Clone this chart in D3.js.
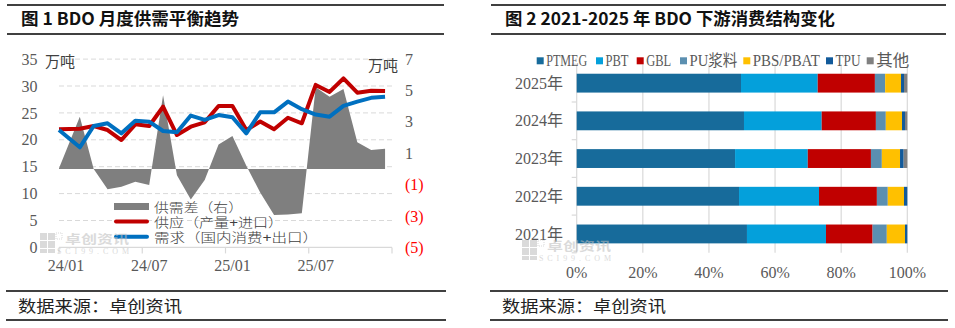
<!DOCTYPE html>
<html><head><meta charset="utf-8">
<script src="https://cdn.jsdelivr.net/npm/d3@7"></script>
<style>body{margin:0;background:#fff;}svg{display:block;}</style>
</head><body><svg id="c" width="955" height="328"></svg>
<script>
// ---------- data: chart 1 ----------
const months = ["24/01","24/02","24/03","24/04","24/05","24/06","24/07","24/08","24/09","24/10","24/11","24/12",
                "25/01","25/02","25/03","25/04","25/05","25/06","25/07","25/08","25/09","25/10","25/11","25/12"];
const supply = [21.95,22.07,22.57,21.82,19.96,22.88,22.57,26.15,20.89,22.44,23.25,26.28,
                26.3,21.8,23.4,21.95,24.1,23.07,30.2,28.9,31.4,28.75,29.1,29.07];
const demand = [21.82,18.6,22.57,23.07,21.2,23.55,23.37,21.64,21.4,24.5,23.7,24.6,
                24.2,21.2,25.1,25.1,27.1,25.7,24.7,24.3,26.3,27.1,27.8,28.0];
const gap = [0.05,3.33,0.0,-1.3,-1.13,-0.82,-1.03,4.7,-0.4,-1.95,-0.7,1.55,
             2.1,0.2,-1.5,-2.94,-2.9,-2.83,5.2,4.6,5.1,1.7,1.2,1.28];
const leftTicks = [0,5,10,15,20,25,30,35];
const rightTicks = [7,5,3,1,-1,-3,-5];
const xTickLabels = ["24/01","24/07","25/01","25/07"];
const legend1 = ["供需差（右）","供应（产量+进口）","需求（国内消费+出口）"];

// ---------- data: chart 2 ----------
const years = ["2025年","2024年","2023年","2022年","2021年"];
const segNames = ["PTMEG","PBT","GBL","PU浆料","PBS/PBAT","TPU","其他"];
const ptmeg = [49.7,50.6,47.9,49.1,51.5];
const pbt   = [23.2,23.5,22.0,24.2,23.9];
const gbl   = [17.3,16.4,19.1,17.5,14.1];
const pu    = [3.1,3.0,3.3,3.3,4.3];
const pbs   = [4.8,4.9,5.5,4.9,5.5];
const tpu   = [0.9,0.9,1.1,1.0,0.7];
const other = [1.0,0.7,1.1,0.0,0.0];
const pctTicks = [0,20,40,60,80,100];

const segColors = ["#176b9b","#04a0db","#c00000","#5b8fb0","#ffc000","#125a9a","#808080"];
const SERIF = "'Liberation Serif','Noto Sans CJK SC',serif";
const CJK = "'Noto Sans CJK SC',sans-serif";
const TIGHT = "'Liberation Sans','Noto Sans CJK SC',sans-serif";
const AX = "#595959";

const svg = d3.select("#c");

// ---------- frame: titles and footers ----------
function frame(x0, x1, title, tlen) {
  svg.append("line").attr("x1",x0).attr("x2",x1).attr("y1",5).attr("y2",5).attr("stroke","#000").attr("stroke-width",1.3);
  svg.append("line").attr("x1",x0).attr("x2",x1).attr("y1",34).attr("y2",34).attr("stroke","#000").attr("stroke-width",1.3);
  svg.append("text").attr("x",x0+14).attr("y",25).attr("font-family",CJK).attr("font-weight",700)
     .attr("font-size",17).attr("fill","#111").attr("textLength",tlen).attr("lengthAdjust","spacingAndGlyphs").text(title);
  svg.append("line").attr("x1",x0-1).attr("x2",x1+2).attr("y1",291).attr("y2",291).attr("stroke","#000").attr("stroke-width",1.3);
  svg.append("line").attr("x1",x0-1).attr("x2",x1+2).attr("y1",320).attr("y2",320).attr("stroke","#000").attr("stroke-width",1.3);
  svg.append("text").attr("x",x0+11).attr("y",312).attr("font-family",CJK).attr("font-size",16)
     .attr("fill","#222").attr("textLength",164).attr("lengthAdjust","spacingAndGlyphs").text("数据来源：卓创资讯");
}
frame(7, 444, "图 1 BDO 月度供需平衡趋势", 218);
frame(491, 946, "图 2 2021-2025 年 BDO 下游消费结构变化", 330);

// ---------- watermark ----------
function watermark(x, y) {
  const g = svg.append("g").attr("transform",`translate(${x},${y})`).attr("opacity",0.55);
  const c = "#bdbdbd";
  [[0,0],[8,0],[0,8],[8,8]].forEach(p => g.append("rect").attr("x",p[0]).attr("y",p[1]).attr("width",7).attr("height",7).attr("fill",c));
  [[0,16],[8,16]].forEach(p => g.append("rect").attr("x",p[0]).attr("y",p[1]).attr("width",7).attr("height",4).attr("fill",c));
  g.append("rect").attr("x",16).attr("y",0).attr("width",6).attr("height",6).attr("fill","none").attr("stroke",c).attr("stroke-dasharray","1,1");
  g.append("text").attr("x",25).attr("y",10.5).attr("font-family",TIGHT).attr("font-size",12).attr("font-weight",700)
    .attr("fill",c).attr("textLength",64).attr("lengthAdjust","spacingAndGlyphs").text("卓创资讯");
  g.append("text").attr("x",17).attr("y",21).attr("font-family",SERIF).attr("font-size",8)
    .attr("fill",c).attr("textLength",72).text("SCI99.COM");
}

// ---------- chart 1 ----------
const x1 = d3.scaleLinear().domain([0,24]).range([59,392]);
const px = i => i === 0 ? x1(0) : x1(i + 0.5);
const yL = d3.scaleLinear().domain([0,35]).range([247.4,59.1]);
const yR = d3.scaleLinear().domain([-5,7]).range([247.4,59.1]);

const g1 = svg.append("g");
// gridlines
g1.selectAll(".gl").data(leftTicks.filter(d => d > 0)).join("line")
  .attr("x1",x1(0)).attr("x2",x1(24)).attr("y1",d => yL(d)).attr("y2",d => yL(d))
  .attr("stroke","#d9d9d9").attr("stroke-width",1).attr("stroke-dasharray","5,3");

watermark(40, 233);

// area
g1.append("path").datum(gap)
  .attr("d", d3.area().x((d,i) => px(i)).y0(yR(0)).y1(d => yR(d)))
  .attr("fill","#7f7f7f");

// x axis
g1.append("line").attr("x1",x1(0)).attr("x2",x1(24)).attr("y1",yL(0)).attr("y2",yL(0)).attr("stroke","#d9d9d9").attr("stroke-width",1.2);
g1.selectAll(".xt").data([0,6,12,18,24]).join("line")
  .attr("x1",d => x1(d)).attr("x2",d => x1(d)).attr("y1",yL(0)).attr("y2",yL(0)+6)
  .attr("stroke","#d9d9d9").attr("stroke-width",1.2);
g1.selectAll(".xl").data(xTickLabels).join("text")
  .attr("x",(d,i) => x1(months.indexOf(d) + 0.5)).attr("y",270.5)
  .attr("text-anchor","middle").attr("font-family",SERIF).attr("font-size",16).attr("fill",AX).text(d => d);

// lines
const line = arr => d3.line().x((d,i) => px(i)).y(d => yL(d))(arr);
g1.append("path").attr("d",line(supply)).attr("fill","none").attr("stroke","#c00000").attr("stroke-width",4).attr("stroke-linejoin","round");
g1.append("path").attr("d",line(demand)).attr("fill","none").attr("stroke","#0070c0").attr("stroke-width",4).attr("stroke-linejoin","round");

// left axis labels
g1.selectAll(".yl").data(leftTicks).join("text")
  .attr("x",37.5).attr("y",d => yL(d)).attr("dy","0.35em").attr("text-anchor","end")
  .attr("font-family",SERIF).attr("font-size",16).attr("fill",AX).text(d => d);
g1.append("text").attr("x",45).attr("y",62).attr("dy","0.35em").attr("font-family",CJK).attr("font-size",15).attr("fill","#404040").text("万吨");
// right axis labels
g1.selectAll(".yr").data(rightTicks).join("text")
  .attr("x",405).attr("y",d => yR(d)).attr("dy","0.35em")
  .attr("font-family",SERIF).attr("font-size",16).attr("fill",d => d < 0 ? "#ff0000" : AX)
  .text(d => d < 0 ? `(${Math.abs(d)})` : d);
g1.append("text").attr("x",368).attr("y",66).attr("dy","0.35em").attr("font-family",CJK).attr("font-size",15).attr("fill","#404040").text("万吨");

// legend
const lgY = [206.5,221.5,236.7];
g1.append("rect").attr("x",114).attr("y",lgY[0]-3.5).attr("width",35).attr("height",7).attr("fill","#7f7f7f");
g1.append("line").attr("x1",116).attr("x2",147).attr("y1",lgY[1]).attr("y2",lgY[1]).attr("stroke","#c00000").attr("stroke-width",4).attr("stroke-linecap","round");
g1.append("line").attr("x1",116).attr("x2",147).attr("y1",lgY[2]).attr("y2",lgY[2]).attr("stroke","#0070c0").attr("stroke-width",4).attr("stroke-linecap","round");
const lgW = [89, 129, 164];
g1.selectAll(".lg").data(legend1).join("text")
  .attr("x",154).attr("y",(d,i) => lgY[i] + 5)
  .attr("font-family",TIGHT).attr("font-size",13).attr("font-weight",300).attr("fill","#404040")
  .attr("textLength",(d,i) => lgW[i]).attr("lengthAdjust","spacingAndGlyphs").text(d => d);

// ---------- chart 2 ----------
const x2 = d3.scaleLinear().domain([0,100]).range([576.7,907.3]);
const y2 = d3.scaleBand().domain(years).range([64.3,252.8]).paddingInner(0.5).paddingOuter(0.25);
const g2 = svg.append("g");

g2.selectAll(".vg").data(pctTicks).join("line")
  .attr("x1",d => x2(d)).attr("x2",d => x2(d)).attr("y1",64.3).attr("y2",252.8)
  .attr("stroke","#d9d9d9").attr("stroke-width",1.2);
const step = y2.step();
g2.selectAll(".yt").data(d3.range(years.length + 1)).join("line")
  .attr("x1",x2(0)-5).attr("x2",x2(0)).attr("y1",d => 64.3 + d*step).attr("y2",d => 64.3 + d*step)
  .attr("stroke","#d9d9d9").attr("stroke-width",1.2);

watermark(522, 240);

const rows = years.map((yr,i) => ({year: yr, PTMEG: ptmeg[i], PBT: pbt[i], GBL: gbl[i], "PU浆料": pu[i],
  "PBS/PBAT": pbs[i], TPU: tpu[i], "其他": other[i]}));
const stacked = d3.stack().keys(segNames)(rows);
stacked.forEach((layer,k) => {
  g2.selectAll(".s"+k).data(layer).join("rect")
    .attr("x",d => x2(d[0])).attr("width",d => Math.max(0, x2(d[1]) - x2(d[0])))
    .attr("y",d => y2(d.data.year)).attr("height",y2.bandwidth())
    .attr("fill",segColors[k]);
});

g2.selectAll(".yl2").data(years).join("text")
  .attr("x",563).attr("y",d => y2(d) + y2.bandwidth()/2).attr("dy","0.35em").attr("text-anchor","end")
  .attr("font-family",SERIF).attr("font-size",16).attr("fill",AX).text(d => d);
g2.selectAll(".xl2").data(pctTicks).join("text")
  .attr("x",d => x2(d)).attr("y",272).attr("dy","0.35em").attr("text-anchor","middle")
  .attr("font-family",SERIF).attr("font-size",16).attr("fill",AX).text(d => d + "%");

// legend 2
const lgX = [536.7,596,636.7,680,743.3,826,866.7];
const lgTW = [41,23,25,48,67,25,33];
segNames.forEach((n,k) => {
  g2.append("rect").attr("x",lgX[k]).attr("y",57.3).attr("width",7).attr("height",7).attr("fill",segColors[k]);
  g2.append("text").attr("x",lgX[k]+9.5).attr("y",60.8).attr("dy","0.35em")
    .attr("font-family",SERIF).attr("font-size",16).attr("fill",AX)
    .attr("textLength",lgTW[k]).attr("lengthAdjust","spacingAndGlyphs").text(n);
});
</script></body></html>
